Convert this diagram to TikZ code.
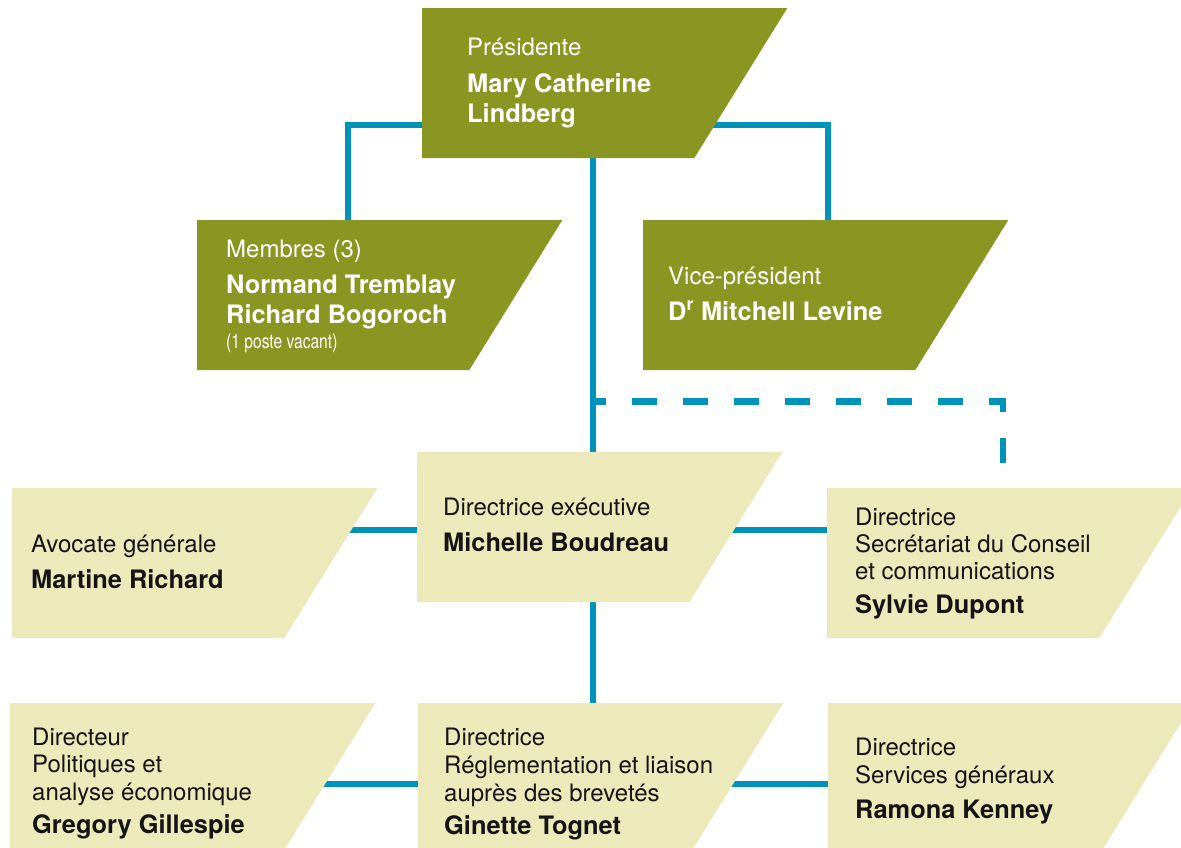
\documentclass[tikz,border=0pt]{standalone}
\usepackage{fontspec}
\setmainfont{TeX Gyre Heros}
\usetikzlibrary{calc,backgrounds}
\definecolor{oliveG}{RGB}{138,150,34}
\definecolor{paleY}{RGB}{236,233,187}
\definecolor{lineB}{RGB}{0,146,184}
\definecolor{inkK}{RGB}{20,20,20}
\tikzset{
  box/.style={rectangle, minimum width=365pt, minimum height=150pt, inner sep=0pt, anchor=north west,
    path picture={\fill[#1] (path picture bounding box.north west) -- (path picture bounding box.north east)
      -- ($(path picture bounding box.south east)+(-93pt,0pt)$) -- (path picture bounding box.south west) -- cycle;}},
  reg/.style={anchor=base west, inner sep=0pt, font=\fontsize{24}{27}\selectfont},
  bld/.style={anchor=base west, inner sep=0pt, font=\bfseries\fontsize{25.4}{30}\selectfont},
  small/.style={anchor=base west, inner sep=0pt, font=\fontsize{20}{22}\selectfont},
  wt/.style={text=white},
  bk/.style={text=inkK},
  conn/.style={draw=lineB, line width=6.5pt},
  dashconn/.style={draw=lineB, line width=6.5pt, dash pattern=on 25pt off 26pt, dash phase=12pt}
}
\begin{document}
\begin{tikzpicture}[x=1pt,y=-1pt]
\useasboundingbox (0,0) rectangle (1181,848);
\clip (0,0) rectangle (1181,848);

% boxes
\node[box=oliveG] (pres) at (422,8) {};
\node[box=oliveG] (memb) at (197,220) {};
\node[box=oliveG] (vice) at (643,220) {};
\node[box=paleY] (exec) at (417,452) {};
\node[box=paleY] (avoc) at (12,488) {};
\node[box=paleY] (secr) at (827,488) {};
\node[box=paleY] (pol) at (10,703) {};
\node[box=paleY] (reg) at (418,703) {};
\node[box=paleY] (serv) at (828,703) {};

% texts
\node[reg,wt] (presA) at ($(pres.north west)+(45,48)$) {Présidente};
\node[bld,wt] (presB) at ($(pres.north west)+(45,85)$) {Mary Catherine};
\node[bld,wt] (presC) at ($(pres.north west)+(45,115)$) {Lindberg};

\node[reg,wt] (membA) at ($(memb.north west)+(29,37)$) {Membres (3)};
\node[bld,wt] (membB) at ($(memb.north west)+(29,73)$) {Normand Tremblay};
\node[bld,wt] (membC) at ($(memb.north west)+(29,103)$) {Richard Bogoroch};
\node[small,wt] (membD) at ($(memb.north west)+(29,128)$) {\scalebox{0.78}[1]{(1 poste vacant)}};

\node[reg,wt] (viceA) at ($(vice.north west)+(25,64)$) {Vice-président};
\node[bld,wt] (viceB) at ($(vice.north west)+(25,100)$) {D\textsuperscript{r} Mitchell Levine};

\node[reg,bk] (execA) at ($(exec.north west)+(26,63)$) {Directrice exécutive};
\node[bld,bk] (execB) at ($(exec.north west)+(26,99)$) {Michelle Boudreau};

\node[reg,bk] (avocA) at ($(avoc.north west)+(19,64)$) {Avocate générale};
\node[bld,bk] (avocB) at ($(avoc.north west)+(19,100)$) {Martine Richard};

\node[reg,bk] (secrA) at ($(secr.north west)+(28,37)$) {Directrice};
\node[reg,bk] (secrB) at ($(secr.north west)+(28,64)$) {Secrétariat du Conseil};
\node[reg,bk] (secrC) at ($(secr.north west)+(28,91)$) {et communications};
\node[bld,bk] (secrD) at ($(secr.north west)+(28,125)$) {Sylvie Dupont};

\node[reg,bk] (polA) at ($(pol.north west)+(22,42)$) {Directeur};
\node[reg,bk] (polB) at ($(pol.north west)+(22,69)$) {Politiques et};
\node[reg,bk] (polC) at ($(pol.north west)+(22,97)$) {analyse économique};
\node[bld,bk] (polD) at ($(pol.north west)+(22,130)$) {Gregory Gillespie};

\node[reg,bk] (regA) at ($(reg.north west)+(26,42)$) {Directrice};
\node[reg,bk] (regB) at ($(reg.north west)+(26,70)$) {Réglementation et liaison};
\node[reg,bk] (regC) at ($(reg.north west)+(26,98)$) {auprès des brevetés};
\node[bld,bk] (regD) at ($(reg.north west)+(26,131)$) {Ginette Tognet};

\node[reg,bk] (servA) at ($(serv.north west)+(27,52)$) {Directrice};
\node[reg,bk] (servB) at ($(serv.north west)+(27,80)$) {Services généraux};
\node[bld,bk] (servC) at ($(serv.north west)+(27,115)$) {Ramona Kenney};

% connectors
\begin{scope}[on background layer]
\fill[white] (0,0) rectangle (1181,848);
\draw[conn] ($(pres.north west)+(0,117)$) -| ($(memb.north west)+(151,0)$);
\draw[conn] ($(pres.north west)+(250,117)$) -| ($(vice.north west)+(185,0)$);
\draw[conn] ($(pres.south west)+(171,0)$) -- ($(exec.north west)+(176,0)$);
\draw[conn] ($(exec.south west)+(176,0)$) -- ($(reg.north west)+(175,0)$);
\coordinate (branch) at ($(pres.south west)+(171,243)$);
\draw[dashconn] (branch) -| ($(secr.north west)+(176,0)$);
\draw[conn] ($(avoc.north west)+(300,42)$) -- ($(exec.north west)+(50,78)$);
\draw[conn] ($(exec.north west)+(300,78)$) -- ($(secr.north west)+(50,42)$);
\draw[conn] ($(pol.north west)+(300,81)$) -- ($(reg.north west)+(50,81)$);
\draw[conn] ($(reg.north west)+(300,81)$) -- ($(serv.north west)+(50,81)$);
\end{scope}
\end{tikzpicture}
\end{document}
